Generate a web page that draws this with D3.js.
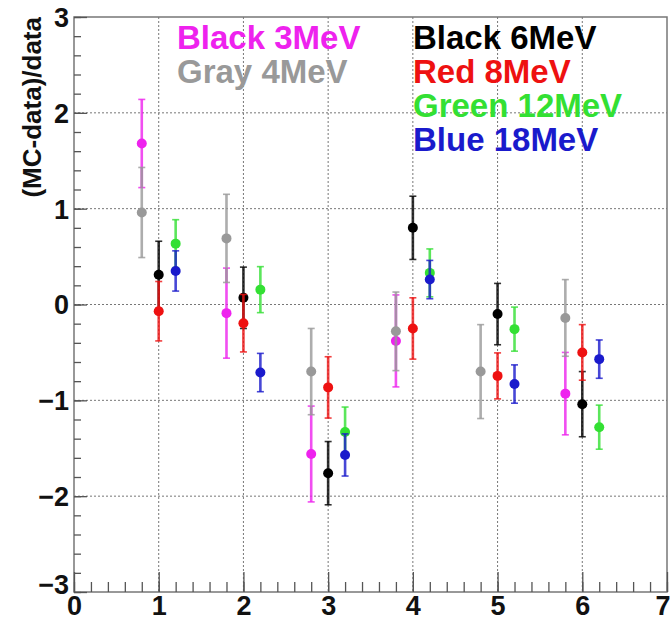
<!DOCTYPE html>
<html>
<head>
<meta charset="utf-8">
<script src="https://cdn.jsdelivr.net/npm/d3@7"></script>
<style>
  body { margin: 0; background: #fff; }
  text { font-family: "Liberation Sans", Arial, sans-serif; font-weight: bold; }
</style>
</head>
<body>
<div id="chart"></div>
<script>
// bin positions and values
var bins = [1, 2, 3, 4, 5, 6];
var xTicks = [0, 1, 2, 3, 4, 5, 6, 7];
var yTicks = [-3, -2, -1, 0, 1, 2, 3];

var mev3  = [1.68, -0.09, -1.56, -0.38, null, -0.93];
var mev3E = [0.46, 0.47, 0.50, 0.48, null, 0.43];
var mev4  = [0.96, 0.69, -0.70, -0.28, -0.70, -0.14];
var mev4E = [0.47, 0.46, 0.45, 0.41, 0.49, 0.40];
var mev6  = [0.31, 0.07, -1.76, 0.80, -0.10, -1.04];
var mev6E = [0.35, 0.32, 0.33, 0.33, 0.32, 0.34];
var mev8  = [-0.07, -0.195, -0.865, -0.25, -0.745, -0.50];
var mev8E = [0.31, 0.30, 0.32, 0.32, 0.24, 0.29];
var mev12  = [0.635, 0.155, -1.33, 0.33, -0.257, -1.28];
var mev12E = [0.25, 0.24, 0.26, 0.25, 0.23, 0.23];
var mev18  = [0.35, -0.71, -1.57, 0.26, -0.83, -0.57];
var mev18E = [0.21, 0.20, 0.22, 0.20, 0.20, 0.20];

var series = [
  {name: "Black 3MeV", vals: mev3, errs: mev3E, off: -0.2, color: "#ee22ee"},
  {name: "Gray 4MeV", vals: mev4, errs: mev4E, off: -0.2, color: "#999999"},
  {name: "Black 6MeV", vals: mev6, errs: mev6E, off: 0, color: "#000000"},
  {name: "Red 8MeV", vals: mev8, errs: mev8E, off: 0, color: "#ee1111"},
  {name: "Green 12MeV", vals: mev12, errs: mev12E, off: 0.2, color: "#33e033"},
  {name: "Blue 18MeV", vals: mev18, errs: mev18E, off: 0.2, color: "#1a1acc"}
];

var W = 670, H = 620;
var margin = {top: 17, right: 3, bottom: 28, left: 74};
var pLeft = margin.left, pRight = W - margin.right,
    pTop = margin.top, pBottom = H - margin.bottom;

var svg = d3.select("#chart").append("svg")
  .attr("width", W).attr("height", H);

svg.append("rect").attr("width", W).attr("height", H).attr("fill", "#fff");

var x = d3.scaleLinear().domain([0, 7]).range([pLeft, pRight]);
var y = d3.scaleLinear().domain([-3, 3]).range([pBottom, pTop]);

// dotted grid
svg.append("g").selectAll("line")
  .data(xTicks.slice(1, -1)).enter().append("line")
  .attr("x1", d => x(d)).attr("x2", d => x(d))
  .attr("y1", pTop).attr("y2", pBottom)
  .attr("stroke", "#777").attr("stroke-width", 1).attr("stroke-dasharray", "2,2");
svg.append("g").selectAll("line")
  .data(yTicks.slice(1, -1)).enter().append("line")
  .attr("x1", pLeft).attr("x2", pRight)
  .attr("y1", d => y(d)).attr("y2", d => y(d))
  .attr("stroke", "#777").attr("stroke-width", 1).attr("stroke-dasharray", "2,2");

// frame
svg.append("rect")
  .attr("x", pLeft).attr("y", pTop)
  .attr("width", pRight - pLeft).attr("height", pBottom - pTop)
  .attr("fill", "none").attr("stroke", "#777").attr("stroke-width", 1.5);

// x axis: minor + major ticks pointing inward
var xMinor = d3.range(0, 7.001, 0.2).map(d => +d.toFixed(1));
svg.append("g").attr("transform", "translate(0," + pBottom + ")")
  .call(d3.axisBottom(x).tickValues(xMinor).tickSize(-10).tickFormat(""))
  .call(g => g.select(".domain").remove())
  .selectAll("line").attr("stroke", "#555").attr("stroke-width", 1.3);
var xAxis = svg.append("g").attr("transform", "translate(0," + pBottom + ")")
  .call(d3.axisBottom(x).tickValues(xTicks).tickSize(-20).tickFormat(d3.format("d")));
xAxis.select(".domain").remove();
xAxis.selectAll("line").attr("stroke", "#555").attr("stroke-width", 1.3);
xAxis.selectAll("text").attr("font-size", 27).attr("fill", "#111")
  .attr("y", 14).attr("dy", "0.33em");
// last label sits against the right edge
xAxis.selectAll("text").filter(d => d === 7)
  .attr("text-anchor", "end").attr("x", 3);

// y axis
var yMinor = d3.range(-3, 3.001, 0.2).map(d => +d.toFixed(1));
svg.append("g").attr("transform", "translate(" + pLeft + ",0)")
  .call(d3.axisLeft(y).tickValues(yMinor).tickSize(-7).tickFormat(""))
  .call(g => g.select(".domain").remove())
  .selectAll("line").attr("stroke", "#555").attr("stroke-width", 1.3);
var yAxis = svg.append("g").attr("transform", "translate(" + pLeft + ",0)")
  .call(d3.axisLeft(y).tickValues(yTicks).tickSize(-13).tickFormat(d3.format("d")));
yAxis.select(".domain").remove();
yAxis.selectAll("line").attr("stroke", "#555").attr("stroke-width", 1.3);
yAxis.selectAll("text").attr("font-size", 27).attr("fill", "#111").attr("x", -5)
  .attr("dy", d => d === -3 ? "0.05em" : "0.35em");

// axis title
svg.append("text")
  .attr("transform", "translate(41," + pTop + ") rotate(-90)")
  .attr("text-anchor", "end")
  .attr("font-size", 26)
  .attr("fill", "#111")
  .text("(MC-data)/data");

// error bars and markers
series.forEach(function(s) {
  var pts = bins.map((b, i) => ({x: b + s.off, v: s.vals[i], e: s.errs[i]}))
    .filter(d => d.v !== null);
  var g = svg.append("g");
  g.selectAll(".bar").data(pts).enter().append("line")
    .attr("x1", d => x(d.x)).attr("x2", d => x(d.x))
    .attr("y1", d => y(d.v - d.e)).attr("y2", d => y(d.v + d.e))
    .attr("stroke", s.color).attr("stroke-width", 2.6).attr("opacity", 0.8);
  [-1, 1].forEach(function(sgn) {
    g.selectAll(".cap" + sgn).data(pts).enter().append("line")
      .attr("x1", d => x(d.x) - 3.5).attr("x2", d => x(d.x) + 3.5)
      .attr("y1", d => y(d.v + sgn * d.e)).attr("y2", d => y(d.v + sgn * d.e))
      .attr("stroke", s.color).attr("stroke-width", 1.6).attr("opacity", 0.8);
  });
  g.selectAll("circle").data(pts).enter().append("circle")
    .attr("cx", d => x(d.x)).attr("cy", d => y(d.v))
    .attr("r", 5).attr("fill", s.color);
});

// legend text
var legPos = [[177, 49], [177, 83], [413, 49], [413, 83], [413, 117], [413, 151]];
series.forEach(function(s, i) {
  svg.append("text")
    .attr("x", legPos[i][0]).attr("y", legPos[i][1])
    .attr("font-size", 33)
    .attr("fill", s.color)
    .text(s.name);
});
</script>
</body>
</html>
